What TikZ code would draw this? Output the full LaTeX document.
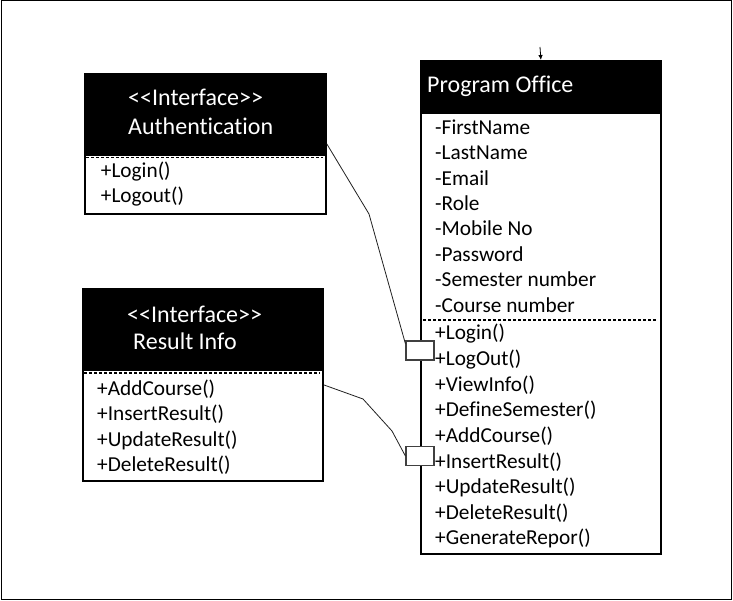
\documentclass[tikz,border=0pt]{standalone}
\usepackage{fontspec}
\setmainfont{Carlito}[Ligatures={TeX,NoCommon}]
\usetikzlibrary{arrows.meta,positioning}
\definecolor{PortGrey}{HTML}{404040}
\definecolor{WireGrey}{HTML}{202020}
\newcommand{\stereo}[1]{<\kern0pt<#1>\kern0pt>}
\tikzset{
  classbox/.style={draw, line width=1.8pt, inner sep=0pt, anchor=north west},
  headbox/.style={draw, fill=black, line width=1.8pt, inner sep=0pt, anchor=north west},
  headtxt/.style={text=white, anchor=base west, inner sep=0pt, font=\fontsize{24}{28}\selectfont},
  itemtxt/.style={anchor=base west, inner sep=0pt, font=\fontsize{21.3}{25}\selectfont},
  sep/.style={line width=1.2pt, dash pattern=on 3pt off 2pt},
  port/.style={draw=PortGrey, fill=white, line width=1.2pt, minimum width=28pt, minimum height=19pt, inner sep=0pt},
  conn/.style={line width=0.8pt, draw=WireGrey}
}

\begin{document}
\begin{tikzpicture}[x=1pt,y=-1pt]
        \useasboundingbox (0,0) rectangle (733,601);
        \draw[line width=1pt] (1,1) rectangle (731,599);

        % Authentication
        \node[classbox, minimum width=241pt, minimum height=140pt] (auth) at (84,73) {};
        \node[headbox, minimum width=241pt, minimum height=81pt] (authhead) at (84,73) {};
        \draw[sep] (86,157.5) -- (323,157.5);
        \node[headtxt] (authst) at (128,106) {\stereo{Interface}};
        \node[headtxt] (authname) at (128,135) {Authentication};
        \node[itemtxt] (authm0) at (100.7,178) {+Login()};
        \node[itemtxt] (authm1) at (100.7,203) {+Logout()};

        % Result Info
        \node[classbox, minimum width=240pt, minimum height=192pt] (resinfo) at (82,288) {};
        \node[headbox, minimum width=240pt, minimum height=81pt] (reshead) at (82,288) {};
        \draw[sep] (84,373) -- (320,373);
        \node[headtxt] (resst) at (127,323) {\stereo{Interface}};
        \node[headtxt] (resname) at (133,349) {Result Info};
        \foreach \t [count=\i from 0] in {+AddCourse(),+InsertResult(),+UpdateResult(),+DeleteResult()}
        {
            \node[itemtxt] (resm\i) at (97,{395+25.5*\i}) {\t};
        }

        % Program Office
        \node[classbox, minimum width=240pt, minimum height=493pt] (office) at (420,60) {};
        \node[headbox, minimum width=240pt, minimum height=52pt] (officehead) at (420,60) {};
        \draw[sep] (423,320) -- (657,320);
        \node[headtxt] (officename) at (427,92.7) {Program Office};
        \foreach \t [count=\i from 0] in {-FirstName,-LastName,-Email,-Role,-Mobile No,-Password,-Semester number,-Course number}
        {
            \node[itemtxt] (attr\i) at (435,{134.3+25.4*\i}) {\t};
        }
        \foreach \t [count=\i from 0] in {+Login(),+LogOut(),+ViewInfo(),+DefineSemester(),+AddCourse(),+InsertResult(),+UpdateResult(),+DeleteResult(),+GenerateRepor()}
        {
            \node[itemtxt] (meth\i) at (435,{340+25.6*\i}) {\t};
        }
        \coordinate (entry) at (540,47);
        \draw[line width=0.8pt, -{Latex[length=5pt,width=4.5pt]}] (entry) -- (office.north);

        % ports and wires
        \node[port] (port1) at (420,350.5) {};
        \node[port] (port2) at (420,456) {};
        \draw[conn] (auth.east) -- (369,214) -- (port1.155);
        \draw[conn] (resinfo.east) -- (363,399) -- (392,431) -- (port2.west);
\end{tikzpicture}
\end{document}
